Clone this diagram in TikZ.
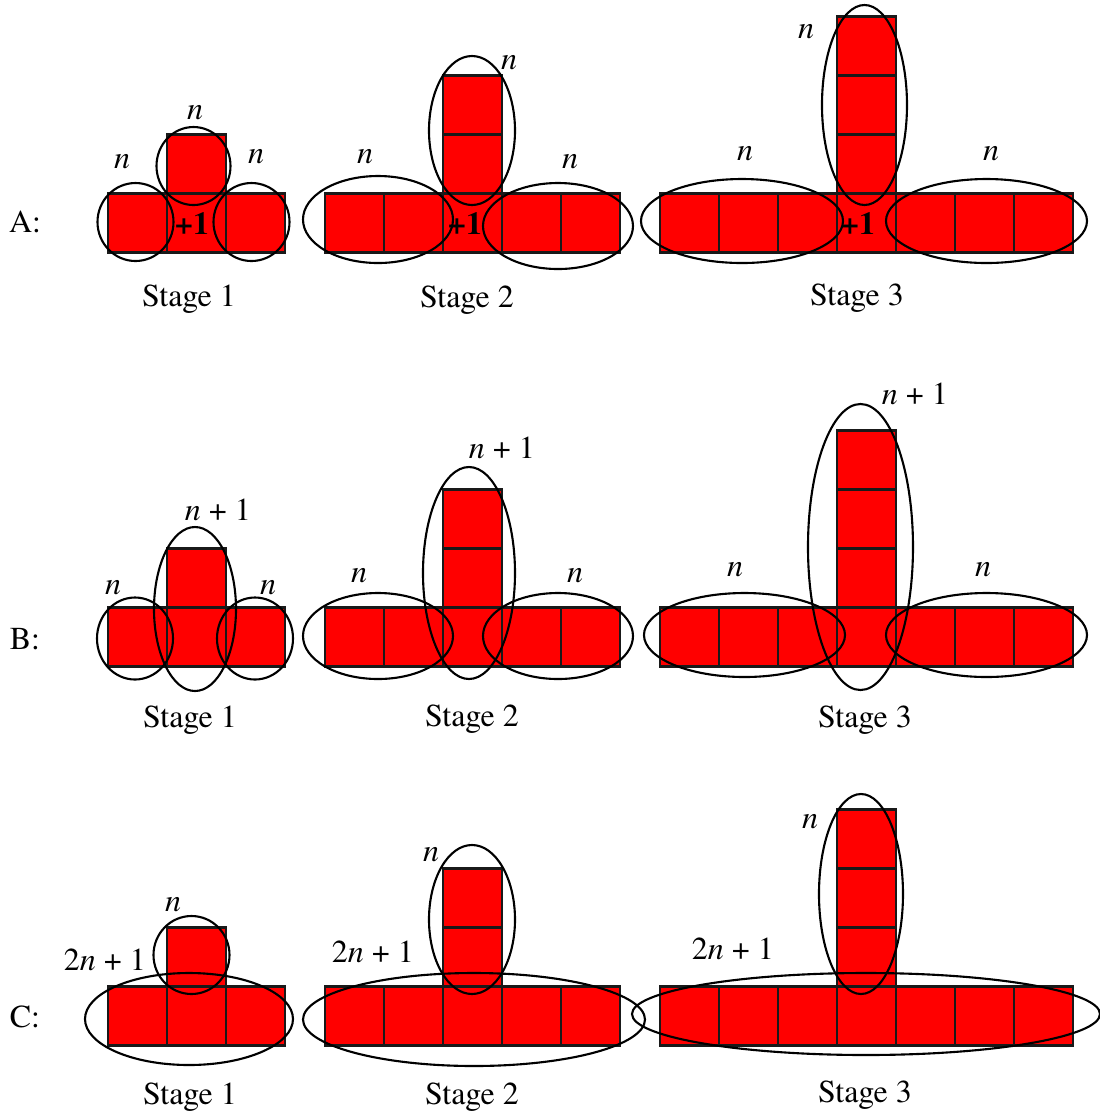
\documentclass[tikz,border=0pt]{standalone}
\usepackage{fontspec}
\setmainfont{TeX Gyre Termes}
\newdimen\tileSize
\tileSize=5.9mm

\begin{document}
\begin{tikzpicture}[
    x=0.1mm, y=-0.1mm,
    tile/.style={%
      draw=black!90,
      fill=red,
      rectangle,
      line width=0.6pt,
      minimum size=\tileSize,
      inner sep=0pt,
      outer sep=0pt,
    },
    ring/.style={%
      draw=black,
      line width=0.6pt,
    },
    txt/.style={%
      font=\fontsize{9.1}{10}\selectfont,
      inner sep=0pt,
    },
    plusone/.style={%
      font=\fontsize{9.1}{10}\selectfont\bfseries,
      inner sep=0pt,
    },
  ]

    \useasboundingbox (0,0) rectangle (1100,1112);

    % tiles
    \foreach \row/\y in {A/223,B/637,C/1016} {
      \foreach \st/\x in {1/196.5,2/472.5,3/866.5} {
        \node [tile] (\row\st) at (\x,\y) {};
        \foreach \k in {1,...,\st} {
          \path (\row\st) ++(-\k*59,0) node [tile] (\row\st l\k) {};
          \path (\row\st) ++(\k*59,0) node [tile] (\row\st r\k) {};
          \path (\row\st) ++(0,-\k*59) node [tile] (\row\st t\k) {};
        }
      }
    }

    % rings A
    \draw [ring] (135.5,222) ellipse [x radius=38, y radius=39];
    \draw [ring] (193.5,166) ellipse [x radius=37, y radius=39];
    \draw [ring] (251.5,222) ellipse [x radius=38, y radius=39];
    \draw [ring] (378,219.5) ellipse [x radius=75, y radius=43.5];
    \draw [ring] (472,130.5) ellipse [x radius=43, y radius=74.5];
    \draw [ring] (558,226) ellipse [x radius=75, y radius=43];
    \draw [ring] (742,221) ellipse [x radius=101, y radius=42];
    \draw [ring] (864.5,105) ellipse [x radius=42.5, y radius=100];
    \draw [ring] (986.5,221) ellipse [x radius=100.5, y radius=42];

    % rings B
    \draw [ring] (135,638.5) ellipse [x radius=38, y radius=41];
    \draw [ring] (195,609) ellipse [x radius=41, y radius=82];
    \draw [ring] (255,638.5) ellipse [x radius=38, y radius=41];
    \draw [ring] (378,636) ellipse [x radius=75, y radius=43];
    \draw [ring] (469,573) ellipse [x radius=46, y radius=106];
    \draw [ring] (558,636) ellipse [x radius=75, y radius=43];
    \draw [ring] (744.5,635) ellipse [x radius=100.5, y radius=42];
    \draw [ring] (860.5,547) ellipse [x radius=52.5, y radius=143];
    \draw [ring] (986.5,635) ellipse [x radius=100.5, y radius=42];

    % rings C
    \draw [ring] (189,1019) ellipse [x radius=104, y radius=46];
    \draw [ring] (191.5,955) ellipse [x radius=38, y radius=39];
    \draw [ring] (474,1019.5) ellipse [x radius=171, y radius=46.5];
    \draw [ring] (472,919.5) ellipse [x radius=43, y radius=74.5];
    \draw [ring] (866,1014) ellipse [x radius=234, y radius=41];
    \draw [ring] (861,894) ellipse [x radius=42, y radius=100];

    % row A texts
    \node [txt] (Alab) at (25,222) {A:};
    \node [plusone] (A1p) at (192,223) {+1};
    \node [plusone] (A2p) at (465,223) {+1};
    \node [plusone] (A3p) at (858,223) {+1};
    \node [txt] (A1nl) at (122,162) {\textit{n}};
    \node [txt] (A1nt) at (195,113) {\textit{n}};
    \node [txt] (A1nr) at (256,157) {\textit{n}};
    \node [txt] (A2nl) at (365,157) {\textit{n}};
    \node [txt] (A2nt) at (509,63) {\textit{n}};
    \node [txt] (A2nr) at (570,162) {\textit{n}};
    \node [txt] (A3nl) at (745,154) {\textit{n}};
    \node [txt] (A3nt) at (806,32) {\textit{n}};
    \node [txt] (A3nr) at (991,154) {\textit{n}};
    \node [txt] (A1cap) at (189,299) {Stage 1};
    \node [txt] (A2cap) at (467,300) {Stage 2};
    \node [txt] (A3cap) at (857,298) {Stage 3};

    % row B texts
    \node [txt] (Blab) at (25,639) {B:};
    \node [txt] (B1nl) at (113,588) {\textit{n}};
    \node [txt] (B1nt) at (218,510) {\textit{n} + 1};
    \node [txt] (B1nr) at (268,588) {\textit{n}};
    \node [txt] (B2nl) at (359,576) {\textit{n}};
    \node [txt] (B2nt) at (502,448) {\textit{n} + 1};
    \node [txt] (B2nr) at (575,576) {\textit{n}};
    \node [txt] (B3nl) at (735,570) {\textit{n}};
    \node [txt] (B3nt) at (915,394) {\textit{n} + 1};
    \node [txt] (B3nr) at (983,570) {\textit{n}};
    \node [txt] (B1cap) at (190,720) {Stage 1};
    \node [txt] (B2cap) at (472,719) {Stage 2};
    \node [txt] (B3cap) at (865,720) {Stage 3};

    % row C texts
    \node [txt] (Clab) at (25,1017) {C:};
    \node [txt] (C1nt) at (173,905) {\textit{n}};
    \node [txt] (C1nb) at (105,960) {2\textit{n} + 1};
    \node [txt] (C2nt) at (431,855) {\textit{n}};
    \node [txt] (C2nb) at (373,952) {2\textit{n} + 1};
    \node [txt] (C3nt) at (810,822) {\textit{n}};
    \node [txt] (C3nb) at (733,949) {2\textit{n} + 1};
    \node [txt] (C1cap) at (190,1097) {Stage 1};
    \node [txt] (C2cap) at (472,1097) {Stage 2};
    \node [txt] (C3cap) at (865,1095) {Stage 3};

\end{tikzpicture}
\end{document}
